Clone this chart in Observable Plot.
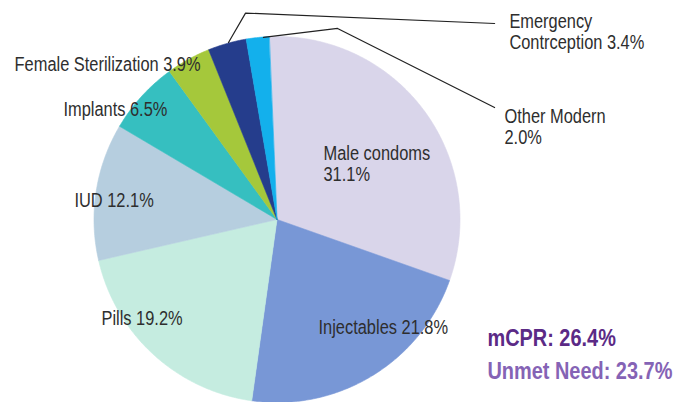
<!DOCTYPE html>
<html>
<head>
<meta charset="utf-8">
<script src="https://cdn.jsdelivr.net/npm/d3@7"></script>
<script src="https://cdn.jsdelivr.net/npm/@observablehq/plot@0.6"></script>
<style>
  html, body { margin: 0; padding: 0; background: #fff; }
  #chart svg { display: block; }
</style>
</head>
<body>
<div id="chart"></div>
<script>
// ---- data ----
const categories = ["Male condoms", "Injectables", "Pills", "IUD", "Implants",
  "Female Sterilization", "Emergency Contrception", "Other Modern"];
const shares = [31.1, 21.8, 19.2, 12.1, 6.5, 3.9, 3.4, 2.0];
const labels = ["Male condoms\n31.1%", "Injectables 21.8%", "Pills 19.2%", "IUD 12.1%",
  "Implants 6.5%", "Female Sterilization 3.9%", "Emergency\nContrception 3.4%", "Other Modern\n2.0%"];
const colors = ["#d9d5ea", "#7897d6", "#c5ece0", "#b6cedf", "#36bfc0", "#a5c83b", "#253d8c", "#13b0ec"];
const summaryLines = ["mCPR: 26.4%", "Unmet Need: 23.7%"];
const summaryColors = ["#5b2a86", "#8563b5"];

// ---- layout (pie units: radius = 1, centre = 0,0) ----
const cx = 276.5, cy = 219, R = 183;
const startDeg = -2.5;
const labelPos = [[0.254, 0.213], [0.227, -0.623], [-0.959, -0.574], [-1.107, 0.071],
  [-1.167, 0.568], [-1.434, 0.814], [1.270, 0.934], [1.243, 0.410]];
const leaders = {
  "Emergency Contrception": [[-0.265, 0.967], [-0.172, 1.128], [1.189, 1.071]],
  "Other Modern": [[-0.074, 0.995], [0.331, 1.044], [1.189, 0.612]]
};
const summaryPos = [[1.150, -0.689], [1.150, -0.869]];
const narrow = 0.82; // horizontal condensing of the sans face

// ---- slices via d3.pie ----
const rad = d => d * Math.PI / 180;
const pie = d3.pie().sort(null).value(d => d.share)
  .startAngle(rad(startDeg)).endAngle(rad(startDeg) + 2 * Math.PI);
const rows = categories.map((c, i) => ({category: c, share: shares[i]}));
const arcs = pie(rows);
const slicePts = [];
arcs.forEach(a => {
  const n = Math.max(8, Math.ceil((a.endAngle - a.startAngle) / 0.01));
  slicePts.push({category: a.data.category, x: 0, y: 0});
  for (let k = 0; k <= n; k++) {
    const t = a.startAngle + (a.endAngle - a.startAngle) * k / n;
    slicePts.push({category: a.data.category, x: Math.sin(t), y: Math.cos(t)});
  }
});

const labelRows = labels.map((l, i) => ({text: l, x: labelPos[i][0], y: labelPos[i][1]}));
const leaderRows = Object.entries(leaders).flatMap(([k, pts]) => pts.map(p => ({k, x: p[0], y: p[1]})));
const summaryRows = summaryLines.map((t, i) => ({text: t, x: summaryPos[i][0], y: summaryPos[i][1], c: summaryColors[i]}));

const font = "'Liberation Sans', Arial, sans-serif";

const chart = Plot.plot({
  width: 689,
  height: 402,
  style: {fontFamily: font, background: "#fff", overflow: "visible"},
  x: {type: "linear", domain: [-1, 1], range: [cx - R, cx + R], axis: null},
  y: {type: "linear", domain: [-1, 1], range: [cy + R, cy - R], axis: null},
  color: {domain: categories, range: colors},
  marks: [
    Plot.line(slicePts, {x: "x", y: "y", z: "category", fill: "category", stroke: "category",
      strokeWidth: 0.6, curve: "linear-closed"}),
    Plot.line(leaderRows, {x: "x", y: "y", z: "k", stroke: "#222", strokeWidth: 1.2}),
    Plot.text(labelRows, {x: "x", y: "y", text: "text", textAnchor: "start", lineAnchor: "bottom",
      lineHeight: 1.05, fontSize: 20, fill: "#2e2e2e"}),
    Plot.text(summaryRows, {x: "x", y: "y", text: "text", textAnchor: "start", lineAnchor: "bottom",
      fontSize: 24.3, fontWeight: "bold", fill: "c"})
  ]
});
document.getElementById("chart").appendChild(chart);

// condense glyphs horizontally (no narrow face installed)
chart.querySelectorAll("text").forEach(t => {
  const spans = t.querySelectorAll("tspan");
  const targets = spans.length ? Array.from(spans) : [t];
  targets.forEach(el => {
    const len = el.getComputedTextLength();
    if (len > 0) {
      el.setAttribute("textLength", (len * narrow).toFixed(1));
      el.setAttribute("lengthAdjust", "spacingAndGlyphs");
    }
  });
});
</script>
</body>
</html>
